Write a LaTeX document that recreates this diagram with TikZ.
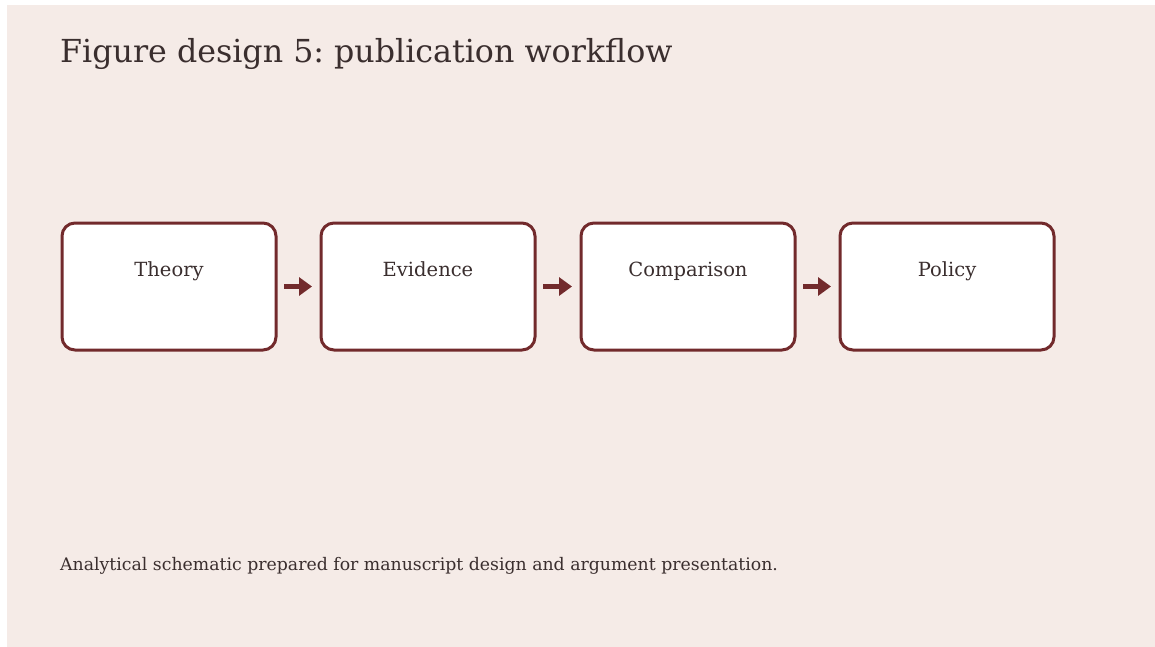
\documentclass[tikz,border=0pt]{standalone}
\usepackage{fontspec}
\setmainfont{DejaVu Serif}
\usetikzlibrary{arrows.meta}
\definecolor{bg}{HTML}{F5EBE7}
\definecolor{edge}{HTML}{722A2C}
\definecolor{ink}{HTML}{3A2E2E}
\tikzset{
  x=1pt, y=-1pt,
  stage/.style={draw=edge, line width=3pt, fill=white, rounded corners=13pt, minimum width=214pt, minimum height=127pt, inner sep=0pt},
  lbl/.style={text=ink, font=\fontsize{19.5}{22}\selectfont, anchor=base, inner sep=0pt},
  flow/.style={draw=edge, line width=4.5pt, -{Triangle[length=13pt,width=18pt]}, shorten <=6.5pt, shorten >=7.5pt},
}
\begin{document}
\frenchspacing
\begin{tikzpicture}
\useasboundingbox (0,0) rectangle (1155,647);
\fill[bg] (7,5) rectangle (1155,647);
\node[anchor=base west, text=ink, font=\fontsize{31.7}{36}\selectfont, inner sep=0pt] (title) at (60,63) {Figure design 5: publication workflow};
\node[stage] (b1) at (169,286.5) {};
\node[stage] (b2) at (428,286.5) {};
\node[stage] (b3) at (688,286.5) {};
\node[stage] (b4) at (947,286.5) {};
\node[lbl] (t1) at (169,276.5) {Theory};
\node[lbl] (t2) at (428,276.5) {Evidence};
\node[lbl] (t3) at (688,276.5) {Comparison};
\node[lbl] (t4) at (947,276.5) {Policy};
\draw[flow] (b1.east) -- (b2.west);
\draw[flow] (b2.east) -- (b3.west);
\draw[flow] (b3.east) -- (b4.west);
\node[anchor=base west, text=ink, font=\fontsize{17.3}{20}\selectfont, inner sep=0pt] (cap) at (60,570) {Analytical schematic prepared for manuscript design and argument presentation.};
\end{tikzpicture}
\end{document}
